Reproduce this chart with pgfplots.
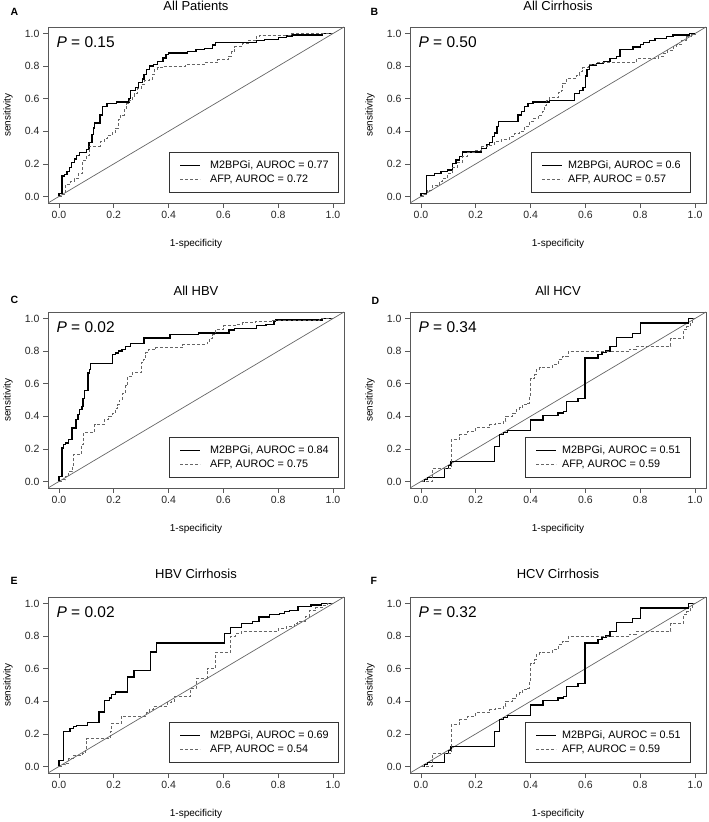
\documentclass[border=0pt]{standalone}
\usepackage{fontspec}
\setmainfont{Liberation Sans}
\usepackage{pgfplots}
\pgfplotsset{compat=1.18}
\definecolor{boxc}{gray}{0.35}
\definecolor{afpc}{gray}{0.4}
\definecolor{diagc}{gray}{0.4}
\pgfplotsset{
 rocaxis/.style={
  scale only axis, width=296pt, height=176pt,
  xmin=-0.04,xmax=1.04,ymin=-0.04,ymax=1.04,
  xtick={0,0.2,0.4,0.6,0.8,1}, ytick={0,0.2,0.4,0.6,0.8,1},
  tick align=outside, xtick pos=lower, ytick pos=left,
  major tick length=5pt,
  axis line style={boxc, line width=0.7pt},
  every tick/.style={boxc, line width=0.7pt},
  tick label style={font=\fontsize{10.5}{12}\selectfont, text=black!85},
  /pgf/number format/fixed, /pgf/number format/fixed zerofill,
  /pgf/number format/precision=1, /pgf/number format/assume math mode=true,
  xlabel={1-specificity}, ylabel={sensitivity},
  label style={font=\fontsize{10}{12}\selectfont},
  xlabel style={at={(axis description cs:0.5,-0.233)}, anchor=center},
  ylabel style={at={(axis description cs:-0.135,0.5)}, anchor=center},
  title style={at={(axis description cs:0.5,1)}, anchor=base, yshift=10.3pt, font=\fontsize{13}{15}\selectfont},
  legend cell align=left,
  legend style={at={(rel axis cs:1,0)}, anchor=south east, yshift=10pt,
    draw=black!80, line width=0.7pt, fill=white, font=\fontsize{10.8}{12}\selectfont,
    inner xsep=10pt, inner ysep=8.5pt, row sep=5pt,
    nodes={inner sep=0pt, text height=7pt, text depth=2pt}},
  legend image code/.code={\draw[#1] (0pt,0pt) -- (20pt,0pt);},
 },
 leftleg/.style={legend style={xshift=-5pt, /tikz/every odd column/.append style={column sep=9pt}}},
 rightleg/.style={legend style={xshift=-15pt, font=\fontsize{10.8}{12}\selectfont, /tikz/every odd column/.append style={column sep=5pt}}},
 m2/.style={black, line width=1.3pt, const plot},
 afp/.style={afpc, line width=0.9pt, dash pattern=on 3pt off 2pt, const plot},
 diag/.style={diagc, line width=0.7pt, forget plot},
}
\newcommand{\Plab}[1]{\node[anchor=base west, xshift=5pt, yshift=-21pt, font=\fontsize{15.5}{17}\selectfont] at (rel axis cs:0,1) {\textit{P} = #1};}
\begin{document}
\begin{tikzpicture}
\useasboundingbox (0,0) rectangle (709pt,822pt);
% ---------- A
\begin{axis}[rocaxis, leftleg, at={(48pt,619pt)}, anchor=south west, title={All Patients}]
\addplot[diag] coordinates {(-0.04,-0.04)(1.04,1.04)};
\addplot[m2] coordinates {(0,0)(0,0.02)(0.011,0.126)(0.021,0.136)(0.029,0.153)(0.039,0.178)(0.047,0.21)(0.057,0.23)(0.065,0.25)(0.075,0.27)(0.1,0.29)(0.11,0.33)(0.12,0.38)(0.125,0.42)(0.13,0.45)(0.15,0.5)(0.16,0.55)(0.175,0.57)(0.21,0.58)(0.255,0.6)(0.26,0.65)(0.28,0.67)(0.29,0.7)(0.305,0.72)(0.31,0.75)(0.32,0.78)(0.33,0.8)(0.345,0.81)(0.36,0.83)(0.38,0.85)(0.39,0.87)(0.4,0.88)(0.47,0.89)(0.5,0.9)(0.53,0.91)(0.56,0.93)(0.57,0.945)(0.72,0.955)(0.75,0.965)(0.8,0.975)(0.83,0.985)(0.85,0.99)(0.96,1.0)(1,1)};
\addlegendentry{M2BPGi, AUROC = 0.77\hspace{28pt}}
\addplot[afp] coordinates {(0,0)(0.01,0.01)(0.024,0.076)(0.043,0.09)(0.055,0.11)(0.07,0.14)(0.085,0.22)(0.1,0.25)(0.113,0.31)(0.15,0.335)(0.165,0.355)(0.177,0.375)(0.195,0.39)(0.207,0.42)(0.216,0.47)(0.226,0.5)(0.238,0.54)(0.247,0.57)(0.256,0.59)(0.268,0.61)(0.274,0.63)(0.287,0.665)(0.3,0.69)(0.311,0.71)(0.33,0.72)(0.341,0.75)(0.35,0.78)(0.36,0.79)(0.378,0.80)(0.46,0.81)(0.53,0.82)(0.58,0.84)(0.62,0.86)(0.63,0.89)(0.64,0.92)(0.67,0.94)(0.69,0.96)(0.72,0.98)(0.73,0.99)(0.85,1.0)(1,1)};
\addlegendentry{AFP, AUROC = 0.72}
\Plab{0.15}
\end{axis}
% ---------- B
\begin{axis}[rocaxis, rightleg, at={(410pt,619pt)}, anchor=south west, title={All Cirrhosis}]
\addplot[diag] coordinates {(-0.04,-0.04)(1.04,1.04)};
\addplot[m2] coordinates {(0,0)(0,0.02)(0.021,0.13)(0.049,0.143)(0.073,0.153)(0.098,0.163)(0.116,0.204)(0.128,0.224)(0.14,0.245)(0.152,0.273)(0.22,0.296)(0.238,0.32)(0.25,0.333)(0.262,0.367)(0.268,0.39)(0.277,0.43)(0.284,0.46)(0.354,0.5)(0.366,0.52)(0.378,0.55)(0.39,0.57)(0.409,0.58)(0.47,0.59)(0.561,0.63)(0.579,0.65)(0.591,0.67)(0.6,0.74)(0.606,0.78)(0.616,0.806)(0.64,0.816)(0.665,0.83)(0.69,0.847)(0.713,0.86)(0.726,0.904)(0.774,0.918)(0.8,0.933)(0.811,0.945)(0.835,0.959)(0.854,0.969)(0.896,0.98)(0.92,0.99)(0.98,1.0)(1,1)};
\addlegendentry{M2BPGi, AUROC = 0.6\hspace{19pt}}
\addplot[afp] coordinates {(0,0)(0.01,0.01)(0.024,0.04)(0.043,0.07)(0.067,0.09)(0.079,0.11)(0.098,0.14)(0.116,0.18)(0.134,0.21)(0.152,0.245)(0.171,0.27)(0.2,0.285)(0.22,0.306)(0.244,0.316)(0.268,0.337)(0.293,0.347)(0.323,0.367)(0.341,0.388)(0.36,0.4)(0.378,0.43)(0.396,0.46)(0.409,0.48)(0.427,0.5)(0.445,0.52)(0.451,0.56)(0.457,0.59)(0.47,0.61)(0.5,0.64)(0.512,0.653)(0.518,0.694)(0.53,0.724)(0.567,0.745)(0.58,0.765)(0.591,0.79)(0.61,0.81)(0.64,0.82)(0.787,0.845)(0.866,0.857)(0.884,0.878)(0.9,0.898)(0.92,0.918)(0.933,0.933)(0.951,0.959)(0.97,0.98)(0.988,0.994)(1,1)};
\addlegendentry{AFP, AUROC = 0.57}
\Plab{0.50}
\end{axis}
% ---------- C
\begin{axis}[rocaxis, leftleg, at={(48pt,334pt)}, anchor=south west, title={All HBV}]
\addplot[diag] coordinates {(-0.04,-0.04)(1.04,1.04)};
\addplot[m2] coordinates {(0,0)(0,0.03)(0.011,0.205)(0.017,0.225)(0.023,0.236)(0.035,0.256)(0.048,0.328)(0.062,0.38)(0.07,0.41)(0.074,0.44)(0.084,0.46)(0.088,0.51)(0.094,0.56)(0.106,0.666)(0.111,0.686)(0.115,0.725)(0.196,0.778)(0.206,0.789)(0.218,0.8)(0.23,0.81)(0.243,0.83)(0.26,0.845)(0.31,0.88)(0.405,0.9)(0.51,0.912)(0.62,0.93)(0.64,0.94)(0.72,0.955)(0.755,0.965)(0.785,0.984)(0.79,0.99)(0.96,1.0)(1,1)};
\addlegendentry{M2BPGi, AUROC = 0.84\hspace{28pt}}
\addplot[afp] coordinates {(0,0)(0.011,0.01)(0.023,0.03)(0.035,0.06)(0.048,0.1)(0.054,0.165)(0.082,0.225)(0.088,0.3)(0.13,0.35)(0.165,0.378)(0.182,0.4)(0.196,0.42)(0.206,0.45)(0.214,0.47)(0.22,0.5)(0.23,0.54)(0.243,0.59)(0.249,0.645)(0.267,0.667)(0.3,0.73)(0.31,0.75)(0.316,0.79)(0.328,0.81)(0.352,0.82)(0.45,0.84)(0.54,0.855)(0.548,0.88)(0.56,0.9)(0.572,0.93)(0.6,0.955)(0.645,0.963)(0.67,0.973)(0.718,0.984)(0.78,0.99)(0.95,1.0)(1,1)};
\addlegendentry{AFP, AUROC = 0.75}
\Plab{0.02}
\end{axis}
% ---------- D
\begin{axis}[rocaxis, rightleg, at={(410pt,334pt)}, anchor=south west, title={All HCV}]
\addplot[diag] coordinates {(-0.04,-0.04)(1.04,1.04)};
\addplot[m2] coordinates {(0,0)(0.012,0.012)(0.024,0.025)(0.085,0.08)(0.1,0.1)(0.11,0.123)(0.268,0.215)(0.287,0.287)(0.3,0.3)(0.317,0.313)(0.4,0.377)(0.445,0.404)(0.5,0.42)(0.52,0.43)(0.53,0.49)(0.573,0.51)(0.598,0.757)(0.646,0.778)(0.66,0.79)(0.675,0.8)(0.69,0.83)(0.713,0.885)(0.772,0.91)(0.8,0.973)(0.976,1.0)(1,1)};
\addlegendentry{M2BPGi, AUROC = 0.51\hspace{12pt}}
\addplot[afp] coordinates {(0,0)(0.043,0.08)(0.11,0.26)(0.14,0.287)(0.17,0.307)(0.2,0.332)(0.25,0.348)(0.27,0.355)(0.3,0.37)(0.31,0.4)(0.335,0.42)(0.348,0.44)(0.36,0.455)(0.372,0.47)(0.39,0.48)(0.396,0.52)(0.4,0.63)(0.415,0.656)(0.42,0.69)(0.433,0.7)(0.48,0.717)(0.5,0.75)(0.518,0.77)(0.537,0.8)(0.762,0.813)(0.785,0.83)(0.912,0.875)(0.958,0.93)(0.97,0.95)(0.985,0.97)(0.99,1.0)(1,1)};
\addlegendentry{AFP, AUROC = 0.59}
\Plab{0.34}
\end{axis}
% ---------- E
\begin{axis}[rocaxis, leftleg, at={(48pt,49pt)}, anchor=south west, title={HBV Cirrhosis}, title style={yshift=2.4pt}]
\addplot[diag] coordinates {(-0.04,-0.04)(1.04,1.04)};
\addplot[m2] coordinates {(0,0)(0,0.035)(0.017,0.213)(0.04,0.232)(0.054,0.245)(0.065,0.25)(0.105,0.27)(0.146,0.335)(0.165,0.405)(0.185,0.42)(0.192,0.44)(0.207,0.457)(0.25,0.55)(0.274,0.59)(0.333,0.703)(0.357,0.757)(0.604,0.815)(0.626,0.853)(0.665,0.877)(0.707,0.89)(0.73,0.918)(0.768,0.932)(0.805,0.939)(0.823,0.949)(0.84,0.959)(0.872,0.98)(0.92,0.99)(0.957,1.0)(1,1)};
\addlegendentry{M2BPGi, AUROC = 0.69\hspace{28pt}}
\addplot[afp] coordinates {(0,0)(0.012,0.01)(0.023,0.02)(0.035,0.05)(0.054,0.07)(0.084,0.08)(0.096,0.11)(0.102,0.17)(0.188,0.215)(0.19,0.266)(0.228,0.31)(0.32,0.33)(0.33,0.35)(0.345,0.37)(0.395,0.39)(0.41,0.4)(0.42,0.43)(0.48,0.48)(0.5,0.54)(0.54,0.6)(0.57,0.7)(0.624,0.8)(0.645,0.815)(0.665,0.83)(0.8,0.845)(0.83,0.86)(0.86,0.875)(0.87,0.89)(0.9,0.92)(0.915,0.96)(0.935,0.975)(0.96,0.99)(0.98,1.0)(1,1)};
\addlegendentry{AFP, AUROC = 0.54}
\Plab{0.02}
\end{axis}
% ---------- F
\begin{axis}[rocaxis, rightleg, at={(410pt,49pt)}, anchor=south west, title={HCV Cirrhosis}, title style={yshift=2.4pt}]
\addplot[diag] coordinates {(-0.04,-0.04)(1.04,1.04)};
\addplot[m2] coordinates {(0,0)(0.012,0.012)(0.024,0.025)(0.085,0.08)(0.1,0.1)(0.11,0.123)(0.268,0.215)(0.287,0.287)(0.3,0.3)(0.317,0.313)(0.4,0.377)(0.445,0.404)(0.5,0.42)(0.52,0.43)(0.53,0.49)(0.573,0.51)(0.598,0.757)(0.646,0.778)(0.66,0.79)(0.675,0.8)(0.69,0.83)(0.713,0.885)(0.772,0.91)(0.8,0.973)(0.976,1.0)(1,1)};
\addlegendentry{M2BPGi, AUROC = 0.51\hspace{12pt}}
\addplot[afp] coordinates {(0,0)(0.043,0.08)(0.11,0.26)(0.14,0.287)(0.17,0.307)(0.2,0.332)(0.25,0.348)(0.27,0.355)(0.3,0.37)(0.31,0.4)(0.335,0.42)(0.348,0.44)(0.36,0.455)(0.372,0.47)(0.39,0.48)(0.396,0.52)(0.4,0.63)(0.415,0.656)(0.42,0.69)(0.433,0.7)(0.48,0.717)(0.5,0.75)(0.518,0.77)(0.537,0.8)(0.762,0.813)(0.785,0.83)(0.912,0.875)(0.958,0.93)(0.97,0.95)(0.985,0.97)(0.99,1.0)(1,1)};
\addlegendentry{AFP, AUROC = 0.59}
\Plab{0.32}
\end{axis}
% panel letters
\node[anchor=base west, font=\fontsize{10.5}{12}\selectfont\bfseries] at (7pt,806pt) {A};
\node[anchor=base west, font=\fontsize{10.5}{12}\selectfont\bfseries] at (367pt,806pt) {B};
\node[anchor=base west, font=\fontsize{10.5}{12}\selectfont\bfseries] at (7pt,518.7pt) {C};
\node[anchor=base west, font=\fontsize{10.5}{12}\selectfont\bfseries] at (368pt,517pt) {D};
\node[anchor=base west, font=\fontsize{10.5}{12}\selectfont\bfseries] at (7pt,237.7pt) {E};
\node[anchor=base west, font=\fontsize{10.5}{12}\selectfont\bfseries] at (367pt,237.7pt) {F};
\end{tikzpicture}
\end{document}
